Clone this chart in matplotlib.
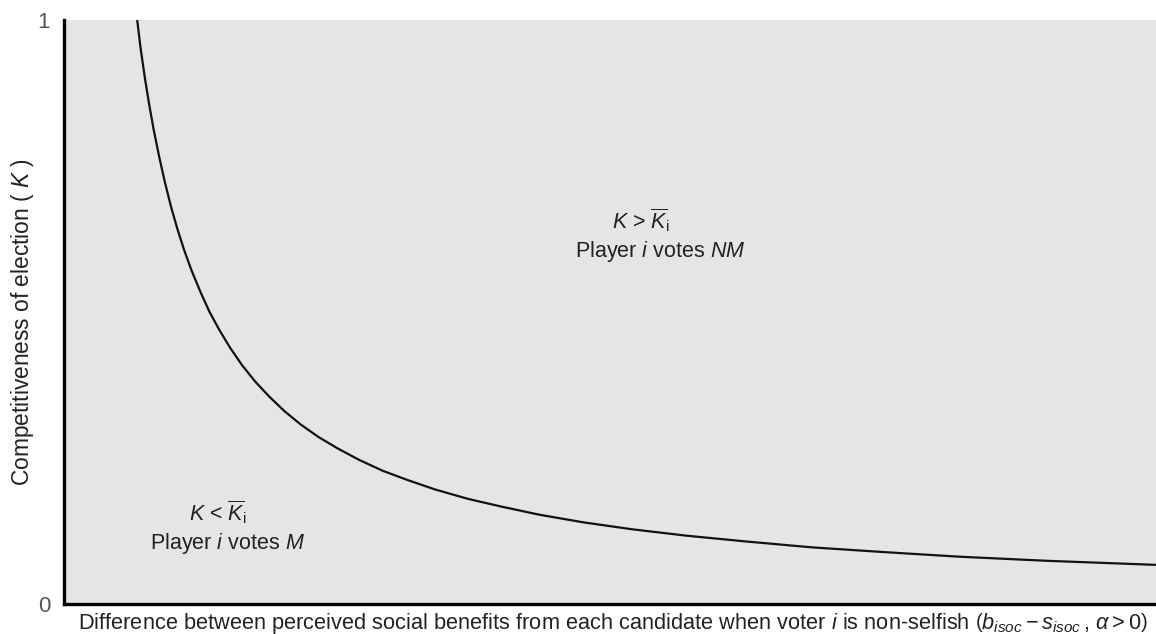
import matplotlib
matplotlib.use("Agg")
import matplotlib.pyplot as plt

plt.rcParams["font.family"] = ["Liberation Sans", "DejaVu Sans"]
plt.rcParams["mathtext.fontset"] = "custom"
plt.rcParams["mathtext.rm"] = "Liberation Sans"
plt.rcParams["mathtext.it"] = "Liberation Sans:italic"
plt.rcParams["mathtext.bf"] = "Liberation Sans:bold"

# threshold curve K_bar_i vs. difference in perceived social benefits
benefit_diff = [0.67, 0.70, 0.74, 0.78, 0.82, 0.87, 0.92, 0.98, 1.04, 1.10,
                1.17, 1.25, 1.33, 1.42, 1.52, 1.63, 1.75, 1.88, 2.02, 2.17,
                2.33, 2.50, 2.70, 2.92, 3.15, 3.40, 3.70, 4.00, 4.35, 4.75,
                5.20, 5.70, 6.25, 6.85, 7.50, 8.20, 9.00, 10.0]
k_threshold = [1.000, 0.953, 0.901, 0.855, 0.813, 0.767, 0.725, 0.680, 0.641, 0.606,
               0.570, 0.534, 0.501, 0.470, 0.439, 0.409, 0.381, 0.355, 0.330, 0.307,
               0.286, 0.267, 0.247, 0.228, 0.212, 0.196, 0.180, 0.167, 0.153, 0.140,
               0.128, 0.117, 0.107, 0.097, 0.089, 0.081, 0.074, 0.067]

fig = plt.figure(figsize=(11.56, 6.34), dpi=100)
ax = fig.add_axes([0.0554, 0.0473, 0.9446, 0.9212])
ax.set_facecolor("#e5e5e5")

ax.plot(benefit_diff, k_threshold, color="#111111", lw=1.6,
        solid_joinstyle="round")

ax.set_xlim(0, 10)
ax.set_ylim(0, 1)
for side in ("top", "right"):
    ax.spines[side].set_visible(False)
for side in ("left", "bottom"):
    ax.spines[side].set_linewidth(2.4)
    ax.spines[side].set_color("#000000")

ax.set_xticks([])
ax.set_yticks([0, 1])
ax.set_yticklabels(["0", "1"], fontsize=16, color="#555555")
ax.tick_params(axis="y", length=0, pad=10)

ax.set_xlabel(r"Difference between perceived social benefits from each candidate when voter $i$ is non-selfish"
              r" $\left(b_{isoc} - s_{isoc}\,,\, \alpha > 0\right)$",
              fontsize=15.7, color="#222222")
ax.xaxis.set_label_coords(0.503, -0.012)
ax.xaxis.label.set_va("top")

ax.set_ylabel(r"Competitiveness of election ( $K$ )", fontsize=16.4, color="#222222")
ax.yaxis.label.set_va("center")
ax.yaxis.set_label_coords(-0.038, 0.483)

txt = dict(fontsize=15.5, color="#222222", ha="center", va="center")
ax.text(5.28, 0.658, r"$K$ > $\overline{K}_{\mathrm{i}}$", **txt)
ax.text(5.46, 0.604, r"Player $i$ votes $NM$", **txt)
ax.text(1.41, 0.158, r"$K$ < $\overline{K}_{\mathrm{i}}$", **txt)
ax.text(1.50, 0.103, r"Player $i$ votes $M$", **txt)

fig.savefig("out.png", dpi=100)
